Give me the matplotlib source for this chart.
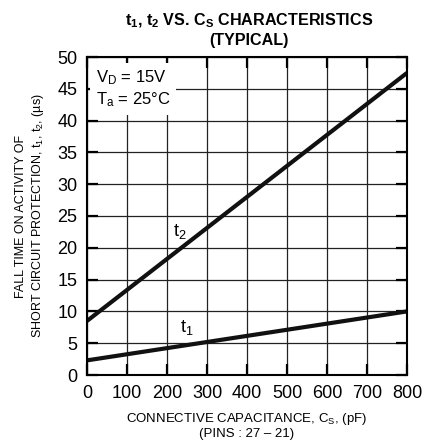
import matplotlib
matplotlib.use("Agg")
import matplotlib.pyplot as plt

cs = [0, 800]
t1 = [2.3, 10.0]
t2 = [8.5, 47.5]
xticks = [0, 100, 200, 300, 400, 500, 600, 700, 800]
yticks = [0, 5, 10, 15, 20, 25, 30, 35, 40, 45, 50]

plt.rcParams['font.family'] = ['Liberation Sans', 'DejaVu Sans']
plt.rcParams['mathtext.fontset'] = 'custom'
plt.rcParams['mathtext.rm'] = 'Liberation Sans'
plt.rcParams['mathtext.bf'] = 'Liberation Sans:bold'
fig = plt.figure(figsize=(4.22, 4.42), dpi=100)
ax = fig.add_axes([87/422, 1-375/442, 320/422, 318/442])
ax.set_xlim(0, 800)
ax.set_ylim(0, 50)
ax.set_xticks(xticks)
ax.set_yticks(yticks)
ax.grid(True, color='#222222', linewidth=0.9)
ax.tick_params(axis='both', labelsize=13, direction='in', length=8, width=1.6, pad=7,
               top=True, right=True)
for s in ax.spines.values():
    s.set_linewidth(1.5)
ax.plot(cs, t2, color='#111111', linewidth=3, solid_capstyle='butt', clip_on=True)
ax.plot(cs, t1, color='#111111', linewidth=3, solid_capstyle='butt', clip_on=True)
ax.text(232, 22.5, r'$\mathregular{t_2}$', fontsize=13, ha='center', va='center')
ax.text(250, 7.4, r'$\mathregular{t_1}$', fontsize=13, ha='center', va='center')
ax.text(22, 45, r'$\mathregular{V_D}$ = 15V' + '\n' + r'$\mathregular{T_a}$ = 25°C',
        fontsize=12, ha='left', va='center', linespacing=1.25,
        bbox=dict(facecolor='white', edgecolor='none', pad=4))
fig.text(249/422, 1-30/442, r'$\mathbf{t_1}$, $\mathbf{t_2}$ VS. $\mathbf{C_S}$ CHARACTERISTICS' + '\n(TYPICAL)',
         fontsize=11.6, fontweight='bold', ha='center', va='center', linespacing=1.3)
ax.set_xlabel(r'CONNECTIVE CAPACITANCE, $\mathregular{C_S}$, (pF)' + '\n(PINS : 27 – 21)', fontsize=9.5, labelpad=7,
              linespacing=1.05)
ax.set_ylabel('FALL TIME ON ACTIVITY OF\n' + r'SHORT CIRCUIT PROTECTION, $\mathregular{t_1}$, $\mathregular{t_2}$, (µs)',
              fontsize=9, labelpad=8, linespacing=1.25)
fig.savefig('out.png', dpi=100, facecolor='white')
